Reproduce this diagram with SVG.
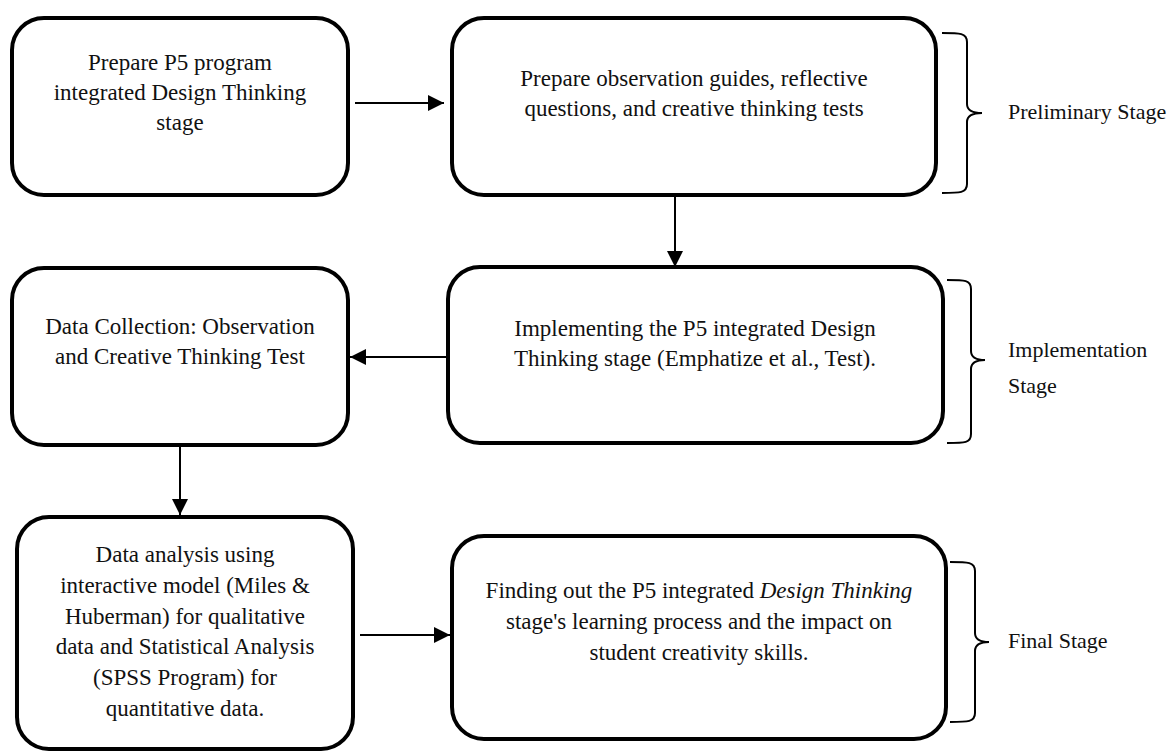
<svg xmlns="http://www.w3.org/2000/svg" width="1172" height="752" viewBox="0 0 1172 752">
<style>
.box{fill:#fff;stroke:#000;stroke-width:4}
.t{font-family:'Liberation Serif','DejaVu Serif',serif;font-size:23px;fill:#111;text-anchor:middle}
.lbl{font-family:'Liberation Serif','DejaVu Serif',serif;font-size:22px;fill:#111}
.conn{stroke:#000;stroke-width:2;fill:none}
.brace{stroke:#000;stroke-width:2;fill:none}
</style>
<defs>
<marker id="ah" viewBox="0 0 16 16" refX="16" refY="8" markerWidth="16" markerHeight="16" markerUnits="userSpaceOnUse" orient="auto">
<path d="M0,0 L16,8 L0,16 Z" fill="#000"/>
</marker>
</defs>
<rect width="1172" height="752" fill="#fff"/>
<g id="connectors">
<line class="conn" x1="355" y1="103" x2="444" y2="103" marker-end="url(#ah)"/>
<line class="conn" x1="675" y1="197" x2="675" y2="267" marker-end="url(#ah)"/>
<line class="conn" x1="448" y1="357" x2="350" y2="357" marker-end="url(#ah)"/>
<line class="conn" x1="180" y1="447" x2="180" y2="515" marker-end="url(#ah)"/>
<line class="conn" x1="360" y1="635" x2="450" y2="635" marker-end="url(#ah)"/>
</g>
<g id="node1">
<rect class="box" x="12" y="18" width="336" height="177" rx="32"/>
<text class="t" x="180" y="70">Prepare P5 program</text>
<text class="t" x="180" y="100">integrated Design Thinking</text>
<text class="t" x="180" y="130">stage</text>
</g>
<g id="node2">
<rect class="box" x="452" y="18" width="484" height="177" rx="32"/>
<text class="t" x="694" y="86">Prepare observation guides, reflective</text>
<text class="t" x="694" y="116">questions, and creative thinking tests</text>
</g>
<g id="node3">
<rect class="box" x="448" y="267" width="495" height="176" rx="32"/>
<text class="t" x="695" y="336">Implementing the P5 integrated Design</text>
<text class="t" x="695" y="366">Thinking stage (Emphatize et al., Test).</text>
</g>
<g id="node4">
<rect class="box" x="12" y="268" width="336" height="177" rx="32"/>
<text class="t" x="180" y="334">Data Collection: Observation</text>
<text class="t" x="180" y="364">and Creative Thinking Test</text>
</g>
<g id="node5">
<rect class="box" x="17" y="517" width="336" height="232" rx="32"/>
<text class="t" x="185" y="562">Data analysis using</text>
<text class="t" x="185" y="593">interactive model (Miles &amp;</text>
<text class="t" x="185" y="624">Huberman) for qualitative</text>
<text class="t" x="185" y="654">data and Statistical Analysis</text>
<text class="t" x="185" y="685">(SPSS Program) for</text>
<text class="t" x="185" y="716">quantitative data.</text>
</g>
<g id="node6">
<rect class="box" x="452" y="536" width="494" height="203" rx="32"/>
<text class="t" x="699" y="598">Finding out the P5 integrated <tspan font-style="italic">Design Thinking</tspan></text>
<text class="t" x="699" y="629">stage's learning process and the impact on</text>
<text class="t" x="699" y="660">student creativity skills.</text>
</g>
<g id="stage1">
<path class="brace" d="M942,33 C960,33 967,33 967,42 L967,104 C967,110 972,113 982,113 C972,113 967,116 967,122 L967,184 C967,193 960,193 942,193"/>
<text class="lbl" x="1008" y="119">Preliminary Stage</text>
</g>
<g id="stage2">
<path class="brace" d="M947,280 C965,280 971,280 971,289 L971,351 C971,357 976,360 985,360 C976,360 971,363 971,369 L971,434 C971,443 965,443 947,443"/>
<text class="lbl" x="1008" y="357">Implementation</text>
<text class="lbl" x="1008" y="393">Stage</text>
</g>
<g id="stage3">
<path class="brace" d="M950,562 C968,562 975,562 975,571 L975,633 C975,639 980,642 989,642 C980,642 975,645 975,651 L975,713 C975,722 968,722 950,722"/>
<text class="lbl" x="1008" y="648">Final Stage</text>
</g>
</svg>
